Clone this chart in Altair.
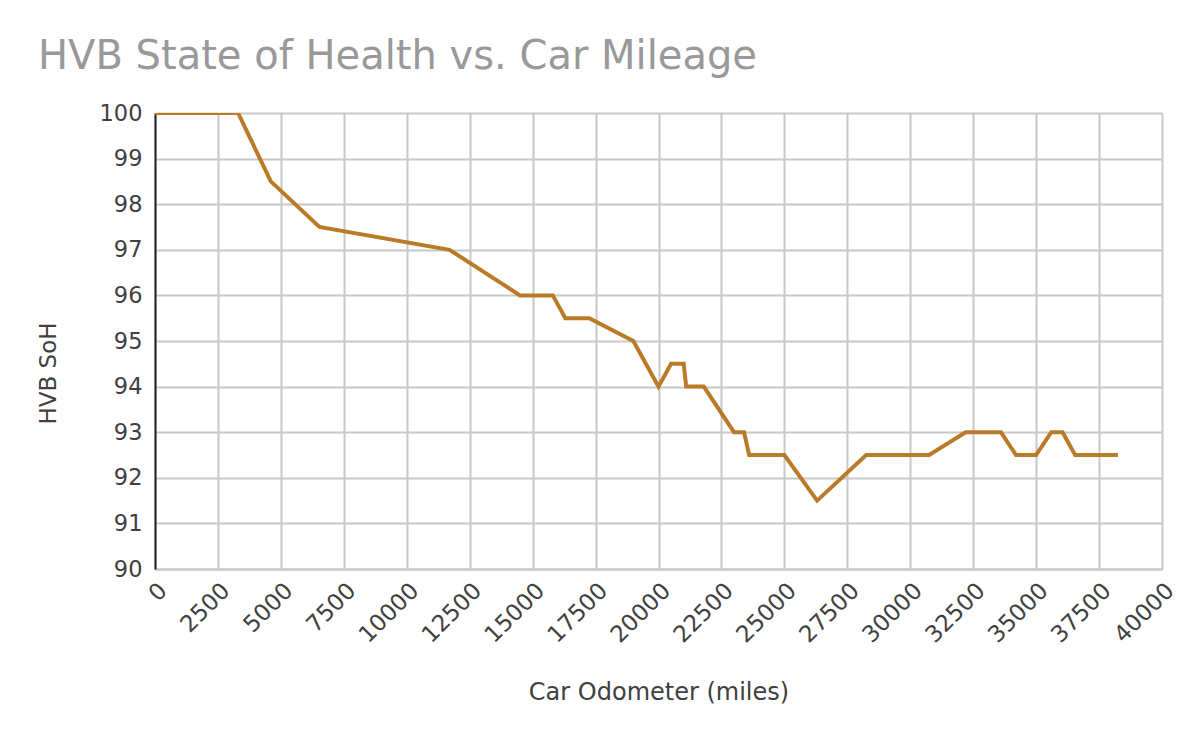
import altair as alt
import pandas as pd

miles = [0, 3300, 4600, 6530, 11700, 14500, 15800, 16300, 17250, 19000, 20000,
         20500, 21000, 21100, 21800, 23000, 23400, 23600, 25000, 26300, 28250,
         30750, 32200, 33600, 34200, 35000, 35600, 36050, 36550, 38250]
soh = [100, 100, 98.5, 97.5, 97, 96, 96, 95.5, 95.5, 95, 94,
       94.5, 94.5, 94, 94, 93, 93, 92.5, 92.5, 91.5, 92.5,
       92.5, 93, 93, 92.5, 92.5, 93, 93, 92.5, 92.5]
x_ticks = list(range(0, 40001, 2500))
y_ticks = list(range(90, 101))

df = pd.DataFrame({"miles": miles, "soh": soh, "order": list(range(len(miles)))})

FONT = "DejaVu Sans"

chart = alt.Chart(df).mark_line(color="#BA7B28", strokeWidth=4, clip=True).encode(
    x=alt.X("miles:Q",
            scale=alt.Scale(domain=[0, 40000], nice=False, zero=False),
            axis=alt.Axis(values=x_ticks, format="d", title="Car Odometer (miles)",
                          labelAngle=-45, labelAlign="right", labelBaseline="top",
                          labelPadding=10, labelFontSize=23, labelColor="#404040",
                          labelFont=FONT, titleFont=FONT, titleFontSize=24,
                          titleFontWeight="normal", titleColor="#404040",
                          titleY=130, titleBaseline="alphabetic",
                          ticks=False, domainColor="#c8c8c8", domainWidth=2,
                          gridColor="#c8c8c8", gridWidth=2, labelOverlap=False,
                          labelFlush=False)),
    y=alt.Y("soh:Q",
            scale=alt.Scale(domain=[90, 100], nice=False, zero=False),
            axis=alt.Axis(values=y_ticks, format="d", title="HVB SoH", labelPadding=13,
                          labelFontSize=22.5, labelColor="#404040", labelFont=FONT,
                          titleFont=FONT, titleFontSize=23, titleFontWeight="normal",
                          titleColor="#404040", titleX=-100, titleY=260,
                          titleBaseline="alphabetic", titleAngle=-90,
                          ticks=False, domainColor="#222222", domainWidth=2,
                          gridColor="#c8c8c8", gridWidth=2, labelFlush=False)),
    order="order:Q",
).properties(
    width=1007,
    height=456,
    title=alt.TitleParams("HVB State of Health vs. Car Mileage", anchor="start",
                          frame="group", dx=-117, offset=25, font=FONT,
                          fontSize=40, fontWeight="normal", color="#999999"),
    autosize=alt.AutoSizeParams(type="none"),
    padding={"left": 155, "top": 113, "right": 38, "bottom": 173},
).configure_view(stroke=None).configure(background="white")

chart.save("out.html", embed_options={"renderer": "svg", "actions": False})
